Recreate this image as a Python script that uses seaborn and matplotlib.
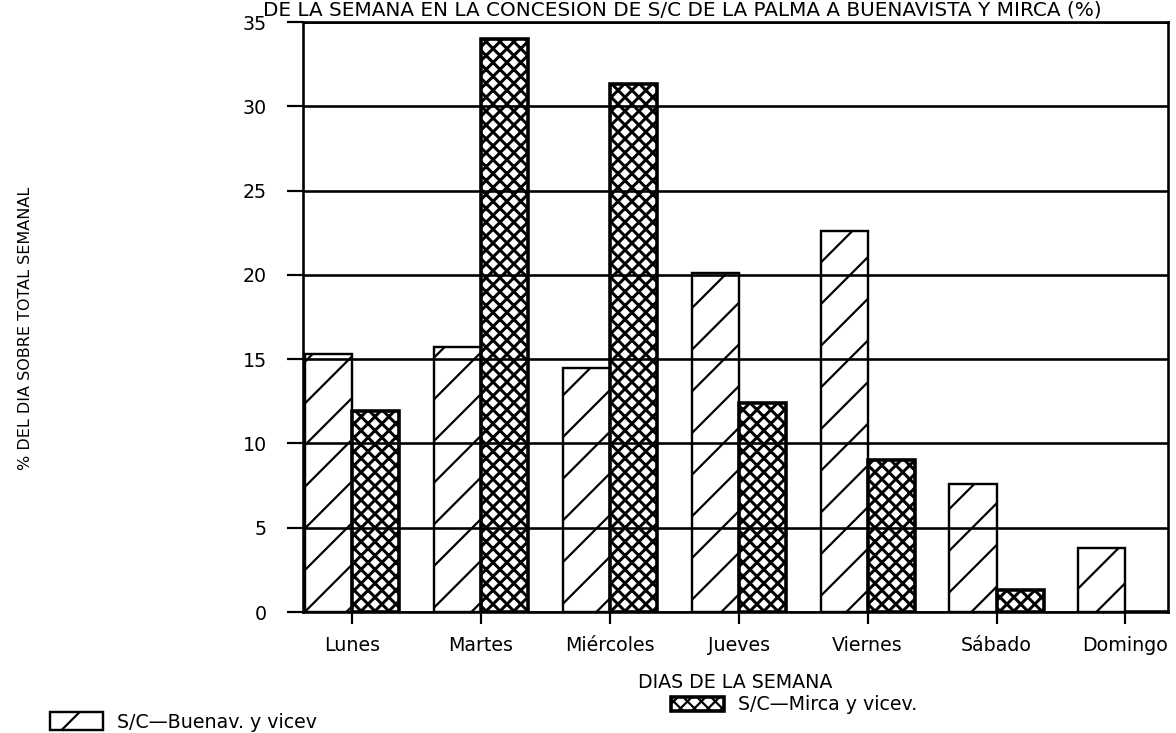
import matplotlib
matplotlib.use("Agg")
import matplotlib.pyplot as plt
from matplotlib.patches import Patch
import pandas as pd
import seaborn as sns

# Share of each weekday in the weekly total, per route (%)
dias = ["Lunes", "Martes", "Miércoles", "Jueves", "Viernes", "Sábado", "Domingo"]
buenavista = [15.3, 15.7, 14.5, 20.1, 22.6, 7.6, 3.8]
mirca = [11.9, 34.0, 31.3, 12.4, 9.0, 1.3, 0.0]
rutas = ["S/C\u2014Buenav. y vicev", "S/C\u2014Mirca y vicev."]
yticks = [0, 5, 10, 15, 20, 25, 30, 35]

titulo = "DE LA SEMANA EN LA CONCESION DE S/C DE LA PALMA A BUENAVISTA Y MIRCA (%)"
eje_x = "DIAS DE LA SEMANA"
eje_y = "% DEL DIA SOBRE TOTAL SEMANAL"

# High dpi with a small canvas keeps hatch spacing wide; sizes given in pixels
DPI = 250
W, H = 1176, 733


def px(v):
    return v * 72.0 / DPI


sns.set_theme(style="white")
plt.rcParams["font.family"] = ["DejaVu Sans"]
plt.rcParams["hatch.color"] = "black"
plt.rcParams["hatch.linewidth"] = px(2.2)

df = pd.DataFrame({
    "dia": dias * 2,
    "pct": buenavista + mirca,
    "ruta": [rutas[0]] * len(dias) + [rutas[1]] * len(dias),
})

fig = plt.figure(figsize=(W / DPI, H / DPI), dpi=DPI)
ax = fig.add_axes([303 / W, 1 - 612 / H, 865 / W, 590 / H])

sns.barplot(data=df, x="dia", y="pct", hue="ruta", order=dias, hue_order=rutas,
            palette=["white", "white"], edgecolor="black", linewidth=px(2.6),
            width=0.73, dodge=True, legend=False, ax=ax)

hatches = ["//", "xxxxxx"]
hatch_lw = [px(2.2), px(3.0)]
edge_lw = [px(2.4), px(3.6)]
for cont, h, hl, el in zip(ax.containers, hatches, hatch_lw, edge_lw):
    for p in cont:
        p.set_hatch(h)
        p.set_linewidth(el)
        if hasattr(p, "set_hatch_linewidth"):
            p.set_hatch_linewidth(hl)

ax.set_xlim(-0.38, 6.33)
ax.set_ylim(0, 35)
ax.set_yticks(yticks)
ax.set_yticklabels([str(t) for t in yticks])
ax.set_xlabel("")
ax.set_ylabel("")

ax.set_axisbelow(False)
ax.yaxis.grid(True, color="black", linewidth=px(2.6))
ax.xaxis.grid(False)
for s in ax.spines.values():
    s.set_visible(True)
    s.set_color("black")
    s.set_linewidth(px(2.6))

ax.tick_params(axis="y", direction="out", length=px(16), width=px(2.2),
               pad=px(20), labelsize=px(19), colors="black", left=True)
ax.tick_params(axis="x", direction="out", length=px(12), width=px(2.2),
               pad=px(12), labelsize=px(19), colors="black", bottom=True)

fig.text(682 / W, 1 - 16 / H, titulo, ha="center", va="baseline",
         fontsize=px(20), color="black")
fig.text(735 / W, 1 - 682 / H, eje_x, ha="center", va="center",
         fontsize=px(19), color="black")
fig.text(26 / W, 1 - 328 / H, eje_y, ha="center", va="center",
         rotation=90, fontsize=px(16), color="black")

handles = [
    Patch(facecolor="white", edgecolor="black", hatch=h, linewidth=el)
    for h, el in zip(hatches, edge_lw)
]
common = dict(frameon=False, fontsize=px(19), borderpad=0, borderaxespad=0,
              handlelength=53 / 19, handletextpad=14 / 19, labelcolor="black")
leg1 = fig.legend([handles[0]], [rutas[0]], loc="center left",
                  bbox_to_anchor=(50 / W, 1 - 722 / H), handleheight=20 / 19,
                  **common)
leg2 = fig.legend([handles[1]], [rutas[1]], loc="center left",
                  bbox_to_anchor=(671 / W, 1 - 705 / H), handleheight=14 / 19,
                  **common)

fig.savefig("out.png", dpi=DPI, facecolor="white")
